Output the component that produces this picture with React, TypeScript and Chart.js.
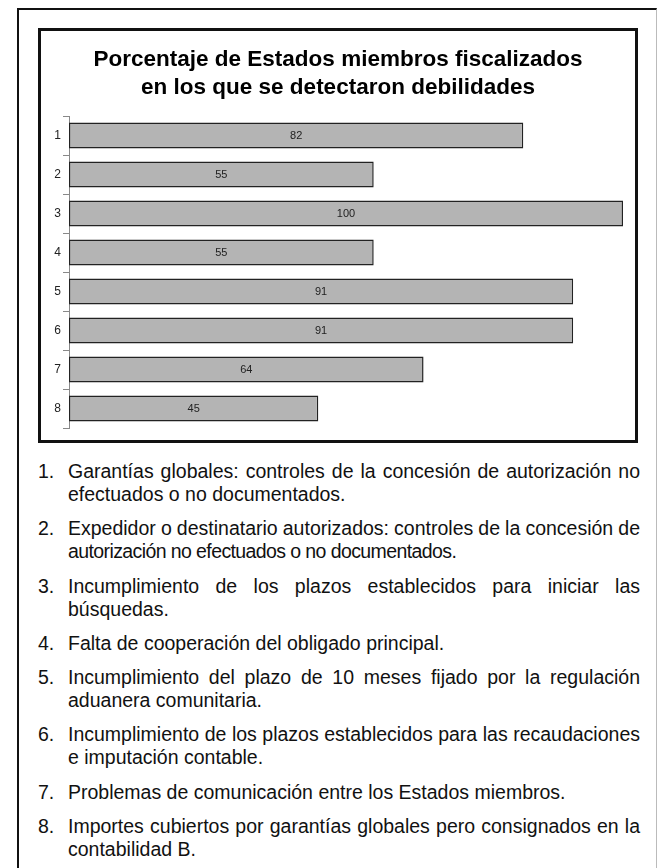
import React, { useEffect, useRef } from "react";
import { Chart, registerables } from "chart.js";

Chart.register(...registerables);

const categories: string[] = ["1", "2", "3", "4", "5", "6", "7", "8"];
const values: number[] = [82, 55, 100, 55, 91, 91, 64, 45];
const titleLines: string[] = [
  "Porcentaje de Estados miembros fiscalizados",
  "en los que se detectaron debilidades",
];

const notes: string[][] = [
  ["Garantías globales: controles de la concesión de autorización no", "efectuados o no documentados."],
  ["Expedidor o destinatario autorizados: controles de la concesión de", "autorización no efectuados o no documentados."],
  ["Incumplimiento de los plazos establecidos para iniciar las", "búsquedas."],
  ["Falta de cooperación del obligado principal."],
  ["Incumplimiento del plazo de 10 meses fijado por la regulación", "aduanera comunitaria."],
  ["Incumplimiento de los plazos establecidos para las recaudaciones", "e imputación contable."],
  ["Problemas de comunicación entre los Estados miembros."],
  ["Importes cubiertos por garantías globales pero consignados en la", "contabilidad B."],
];

// per-line typographic tightening seen in the source (item index, line index)
const tightLines: { [key: string]: React.CSSProperties } = {
  "1-0": { wordSpacing: "-1px" },
  "1-1": { letterSpacing: "-0.6px" },
  "5-0": { wordSpacing: "-2.5px" },
};

const FONT = "'Liberation Sans', Arial, Helvetica, sans-serif";

const valueLabels = {
  id: "valueLabels",
  afterDatasetsDraw(chart: any) {
    const ctx = chart.ctx;
    const meta = chart.getDatasetMeta(0);
    ctx.save();
    ctx.font = `11px ${FONT}`;
    ctx.fillStyle = "#222";
    ctx.textAlign = "center";
    ctx.textBaseline = "middle";
    meta.data.forEach((bar: any, i: number) => {
      const p = bar.getProps(["x", "y", "base"], true);
      ctx.fillText(String(values[i]), (p.x + p.base) / 2, p.y + 0.5);
    });
    ctx.restore();
  },
};

function BarChart() {
  const ref = useRef<HTMLCanvasElement | null>(null);
  useEffect(() => {
    if (!ref.current) return;
    const chart = new Chart(ref.current, {
      type: "bar",
      data: {
        labels: categories,
        datasets: [
          {
            data: values,
            backgroundColor: "#b4b4b4",
            borderColor: "#222",
            borderWidth: 1.5,
            borderSkipped: false,
            barPercentage: 0.67,
            categoryPercentage: 1,
          },
        ],
      },
      options: {
        indexAxis: "y",
        animation: false,
        responsive: true,
        maintainAspectRatio: false,
        layout: { padding: { left: 12, right: 12, top: 0, bottom: 12 } },
        plugins: {
          legend: { display: false },
          tooltip: { enabled: false },
          title: {
            display: true,
            text: titleLines,
            color: "#000",
            font: { family: FONT, size: 22.5, weight: "bold", lineHeight: 28 / 22.5 },
            padding: { top: 15, bottom: 14 },
          },
        },
        scales: {
          x: {
            display: false,
            min: 0,
            max: 100,
          },
          y: {
            afterFit: (s: any) => {
              s.width = 16;
            },
            grid: {
              display: true,
              drawOnChartArea: false,
              drawTicks: true,
              tickLength: 6,
              color: "#888",
              offset: true,
            },
            border: { display: true, color: "#888", width: 1 },
            ticks: {
              color: "#222",
              padding: 2,
              font: { family: FONT, size: 12 },
            },
          },
        },
      },
      plugins: [valueLabels],
    });
    return () => chart.destroy();
  }, []);
  return (
    <div style={{ position: "absolute", left: 41, top: 31, width: 594, height: 409 }}>
      <canvas ref={ref} />
    </div>
  );
}

export default function App() {
  const L = 23;
  return (
    <div
      style={{
        position: "fixed",
        left: 0,
        top: 0,
        width: 658,
        height: 868,
        overflow: "hidden",
        background: "#fff",
        fontFamily: FONT,
      }}
    >
      <div
        style={{
          position: "absolute",
          left: 17,
          top: 8,
          width: 640,
          height: 880,
          boxSizing: "border-box",
          borderLeft: "2px solid #111",
          borderTop: "2px solid #111",
          borderRight: "1px solid #bbb",
        }}
      />
      <div
        style={{
          position: "absolute",
          left: 38,
          top: 28,
          width: 600,
          height: 415,
          boxSizing: "border-box",
          border: "3px solid #111",
        }}
      />
      <BarChart />
      <div
        style={{
          position: "absolute",
          left: 38,
          top: 471.5 - L / 2,
          width: 602,
          fontSize: 19.5,
          lineHeight: `${L}px`,
          color: "#111",
        }}
      >
        {notes.map((lines, i) => (
          <div key={i} style={{ display: "flex", marginBottom: 11.3 }}>
            <div style={{ width: 30, flex: "none" }}>{`${i + 1}.`}</div>
            <div style={{ width: 572, flex: "none" }}>
              {lines.map((ln, j) => (
                <div
                  key={j}
                  style={{
                    ...(j < lines.length - 1
                      ? { textAlign: "justify", textAlignLast: "justify" }
                      : { textAlign: "left" }),
                    ...(tightLines[`${i}-${j}`] || {}),
                  }}
                >
                  {ln}
                </div>
              ))}
            </div>
          </div>
        ))}
      </div>
    </div>
  );
}
